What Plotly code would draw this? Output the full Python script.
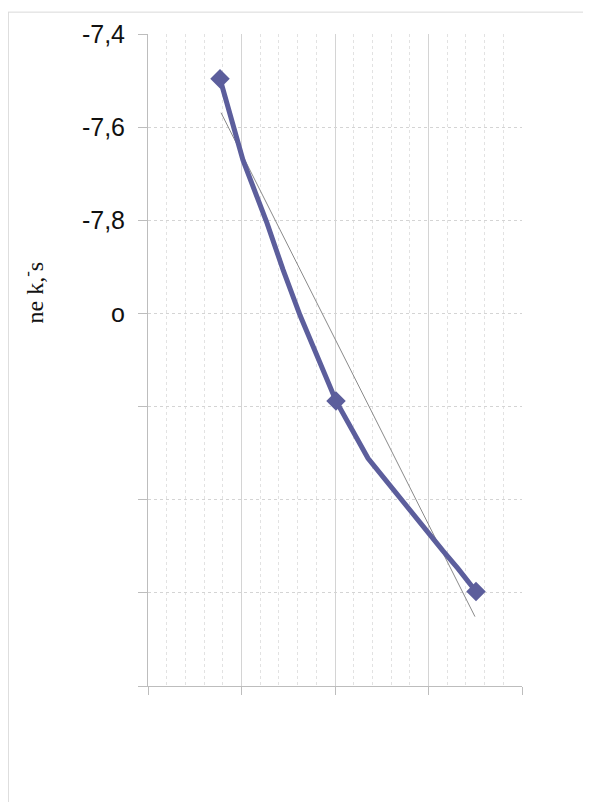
import plotly.graph_objects as go

# Data
curve_x = [0.770, 1.016, 1.273, 1.444, 1.626, 1.807, 2.011, 2.353, 2.695, 3.155, 3.316, 3.508]
curve_y = [-7.496, -7.671, -7.806, -7.906, -8.004, -8.089, -8.188, -8.311, -8.397, -8.510, -8.548, -8.597]
marker_x = [0.770, 2.011, 3.508]
marker_y = [-7.496, -8.188, -8.597]
trend_x = [0.781, 3.497]
trend_y = [-7.569, -8.651]

y_tickvals = [-7.4, -7.6, -7.8, -8.0, -8.2, -8.4, -8.6, -8.8]
y_ticktext = ["-7,4", "-7,6", "-7,8", "o", "", "", "", ""]
y_label = "ne k,<sup>-</sup>s"

LINE = "#5c5e9c"
GRID = "#d4d4d4"

# page has an 8px body margin; plot area in page coords: x 148..522, y 30..686
L, T = 140, 22
PW, PH = 374, 656

fig = go.Figure()
fig.add_trace(go.Scatter(x=trend_x, y=trend_y, mode="lines",
                         line=dict(color="#8a8a8a", width=1), showlegend=False, hoverinfo="skip"))
fig.add_trace(go.Scatter(x=curve_x, y=curve_y, mode="lines",
                         line=dict(color=LINE, width=5), showlegend=False))
fig.add_trace(go.Scatter(x=marker_x, y=marker_y, mode="markers",
                         marker=dict(symbol="diamond", size=15, color=LINE), showlegend=False))

fig.update_layout(
    width=591, height=802,
    margin=dict(l=L, r=591 - L - PW, t=T, b=802 - T - PH),
    paper_bgcolor="white", plot_bgcolor="white",
    xaxis=dict(range=[0, 4], tickmode="linear", tick0=0, dtick=1, showticklabels=False,
               showgrid=True, gridcolor=GRID, gridwidth=1,
               minor=dict(dtick=0.2, showgrid=True, gridcolor="#e2e2e2", griddash="dot", gridwidth=1),
               showline=True, linecolor="#bdbdbd", linewidth=1,
               ticks="outside", ticklen=8, tickcolor="#bdbdbd", zeroline=False),
    yaxis=dict(range=[-8.8, -7.4], tickmode="array", tickvals=y_tickvals, ticktext=y_ticktext,
               showgrid=True, gridcolor=GRID, griddash="dot", gridwidth=1,
               showline=True, linecolor="#bdbdbd", linewidth=1,
               ticks="outside", ticklen=9, tickcolor="#bdbdbd", zeroline=False,
               tickfont=dict(family="Liberation Sans, Arial, sans-serif", size=25, color="#111111"),
               ticklabelstandoff=8),
    shapes=[
        dict(type="line", xref="paper", yref="paper", x0=-L / PW, x1=1.3, y0=(PH + T) / PH, y1=(PH + T) / PH,
             line=dict(color="#d9d9d9", width=1)),
        dict(type="line", xref="paper", yref="paper", x0=-L / PW + 0.001, x1=-L / PW + 0.001,
             y0=(PH + T) / PH, y1=-0.3, line=dict(color="#d9d9d9", width=1)),
    ],
    annotations=[
        dict(text=y_label, xref="paper", yref="paper", x=(33 - 148) / PW, y=(686 - 290) / PH,
             showarrow=False, textangle=-90, xanchor="center", yanchor="middle",
             font=dict(family="Liberation Serif, Times New Roman, serif", size=24, color="#111111")),
    ],
)

fig.write_html("out.html")
